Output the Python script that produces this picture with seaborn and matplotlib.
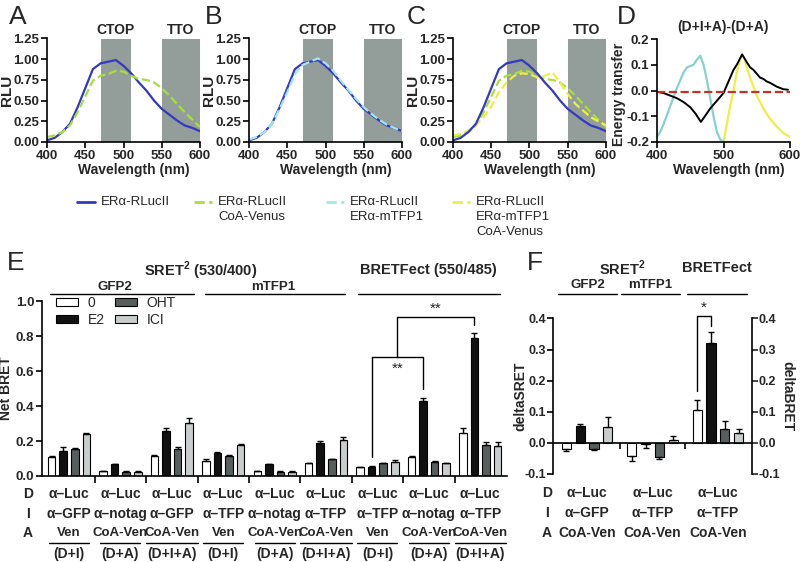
import numpy as np
import pandas as pd
import matplotlib
matplotlib.use('Agg')
import matplotlib.pyplot as plt
import matplotlib.transforms as mtransforms
from matplotlib.patches import Patch
from matplotlib.ticker import FormatStrFormatter
import seaborn as sns

wl = [400, 410, 420, 430, 440, 450, 460, 470, 480, 490, 500,
      510, 520, 530, 540, 550, 560, 570, 580, 590, 600]
rluc = [0.02, 0.05, 0.12, 0.22, 0.42, 0.65, 0.88, 0.95, 0.97, 0.99, 0.92,
        0.83, 0.72, 0.62, 0.50, 0.40, 0.33, 0.26, 0.20, 0.17, 0.13]
rluc_venus = [0.06, 0.08, 0.12, 0.20, 0.36, 0.55, 0.74, 0.80, 0.82, 0.86, 0.85,
              0.80, 0.76, 0.75, 0.72, 0.65, 0.56, 0.46, 0.36, 0.27, 0.18]
rluc_mtfp = [0.03, 0.06, 0.12, 0.22, 0.40, 0.60, 0.82, 0.93, 0.97, 1.01, 0.95,
             0.86, 0.74, 0.63, 0.52, 0.42, 0.34, 0.27, 0.21, 0.17, 0.13]
rluc_mtfp_venus = [0.08, 0.10, 0.14, 0.20, 0.30, 0.43, 0.60, 0.72, 0.80, 0.83, 0.82,
                   0.78, 0.80, 0.84, 0.72, 0.58, 0.46, 0.38, 0.30, 0.25, 0.20]

# ---- panel D: energy transfer difference
d_cyan_wl = [400, 405, 410, 420, 430, 440, 445, 450, 455, 460, 465, 470, 475,
             480, 485, 490, 495, 500, 510, 522]
d_cyan = [-0.18, -0.16, -0.13, -0.06, 0.01, 0.07, 0.09, 0.095, 0.10, 0.12, 0.135,
          0.10, 0.04, -0.03, -0.10, -0.16, -0.19, -0.20, -0.20, -0.20]
d_yellow_wl = [500, 505, 510, 515, 520, 525, 528, 532, 536, 540, 550, 560,
               570, 580, 590, 600]
d_yellow = [-0.20, -0.13, -0.06, 0.00, 0.07, 0.12, 0.14, 0.12, 0.08, 0.05, -0.02,
            -0.07, -0.11, -0.14, -0.165, -0.18]
d_black_wl = [400, 410, 420, 430, 440, 450, 458, 466, 472, 480, 490, 500, 505,
              510, 515, 520, 528, 535, 540, 545, 550, 555, 560, 565, 570, 580, 590, 597]
d_black = [-0.005, -0.01, -0.02, -0.03, -0.045, -0.065, -0.09, -0.122, -0.10, -0.07,
           -0.04, -0.01, 0.02, 0.05, 0.08, 0.10, 0.14, 0.11, 0.09, 0.08, 0.065, 0.05,
           0.045, 0.035, 0.03, 0.015, 0.005, 0.003]
d_baseline = -0.005

# ---- panel E: net BRET
treats = ['0', 'E2', 'OHT', 'ICI']
e_groups = ['g1', 'g2', 'g3', 'g4', 'g5', 'g6', 'g7', 'g8', 'g9']
e_zero = [0.110, 0.028, 0.116, 0.086, 0.028, 0.072, 0.050, 0.110, 0.246]
e_e2 = [0.143, 0.067, 0.257, 0.130, 0.067, 0.187, 0.053, 0.430, 0.787]
e_oht = [0.152, 0.025, 0.154, 0.116, 0.025, 0.095, 0.072, 0.082, 0.177]
e_ici = [0.238, 0.025, 0.305, 0.177, 0.025, 0.206, 0.082, 0.072, 0.173]
e_zero_err = [0.005, 0.003, 0.005, 0.010, 0.003, 0.005, 0.004, 0.005, 0.030]
e_e2_err = [0.020, 0.003, 0.015, 0.005, 0.003, 0.013, 0.003, 0.018, 0.032]
e_oht_err = [0.008, 0.003, 0.010, 0.004, 0.003, 0.004, 0.005, 0.005, 0.020]
e_ici_err = [0.005, 0.003, 0.025, 0.004, 0.003, 0.015, 0.010, 0.005, 0.020]
e_row_d = ['α–Luc'] * 9
e_row_i = ['α–GFP', 'α–notag', 'α–GFP', 'α–TFP', 'α–notag', 'α–TFP',
           'α–TFP', 'α–notag', 'α–TFP']
e_row_a = ['Ven', 'CoA-Ven', 'CoA-Ven'] * 3
e_row_combo = ['(D+I)', '(D+A)', '(D+I+A)'] * 3

# ---- panel F: delta SRET / delta BRET
f_groups = ['h1', 'h2', 'h3']
f_zero = [-0.020, -0.043, 0.105]
f_e2 = [0.055, -0.005, 0.322]
f_oht = [-0.020, -0.045, 0.045]
f_ici = [0.052, 0.008, 0.033]
f_zero_err = [0.005, 0.016, 0.032]
f_e2_err = [0.005, 0.013, 0.033]
f_oht_err = [0.004, 0.007, 0.024]
f_ici_err = [0.032, 0.015, 0.012]
f_row_d = ['α–Luc'] * 3
f_row_i = ['α–GFP', 'α–TFP', 'α–TFP']
f_row_a = ['CoA-Ven'] * 3

# colours
BLUE = '#3439c2'
GREEN = '#a6e03c'
CYAN = '#a2e6ee'
CYAN_D = '#86d2d2'
YELLOW = '#eeee44'
RED = '#c8302c'
BAND = '#939d9a'
BAR_COLORS = ['#ffffff', '#111111', '#565e5e', '#c9cdcd']

sns.set_style('ticks')
plt.rcParams['font.family'] = ['Liberation Sans', 'DejaVu Sans']
plt.rcParams['font.weight'] = 'bold'
plt.rcParams['axes.labelweight'] = 'bold'
plt.rcParams['mathtext.fontset'] = 'custom'
plt.rcParams['mathtext.bf'] = 'Liberation Sans:bold'
plt.rcParams['mathtext.rm'] = 'Liberation Sans:bold'

W, H = 802, 562
fig = plt.figure(figsize=(W / 100, H / 100), dpi=100)


def add_ax(x0, y0, x1, y1):
    return fig.add_axes([x0 / W, 1 - y1 / H, (x1 - x0) / W, (y1 - y0) / H])


def ftext(x, y, s, **kw):
    kw.setdefault('ha', 'center')
    kw.setdefault('va', 'center')
    return fig.text(x / W, 1 - y / H, s, **kw)


def style(ax, size=10):
    for s in ['top', 'right']:
        ax.spines[s].set_visible(False)
    for s in ['left', 'bottom']:
        ax.spines[s].set_linewidth(1.2)
        ax.spines[s].set_color('black')
    ax.tick_params(direction='out', length=4, width=1.2, labelsize=size, pad=1.5,
                   color='black')


# ---------------- A, B, C: emission spectra
spec_panels = [
    ('A', 47, 18, [(rluc, '-', BLUE), (rluc_venus, '--', GREEN)]),
    ('B', 249, 214, [(rluc, '-', BLUE), (rluc_mtfp, '--', CYAN)]),
    ('C', 453, 416, [(rluc_venus, '--', GREEN), (rluc_mtfp_venus, '--', YELLOW),
                     (rluc, '-', BLUE)]),
]
for letter, x0, lx, curves in spec_panels:
    ax = add_ax(x0, 38.5, x0 + 153, 142)
    ax.axvspan(470, 510, color=BAND, lw=0, zorder=0)
    ax.axvspan(550, 600, color=BAND, lw=0, zorder=0)
    for vals, ls, c in curves:
        sns.lineplot(x=wl, y=vals, ax=ax, color=c, lw=1.6, linestyle=ls)
    ax.set_xlim(400, 600)
    ax.set_ylim(0, 1.25)
    ax.set_xticks([400, 450, 500, 550, 600])
    ax.set_yticks([0, 0.25, 0.5, 0.75, 1.0, 1.25])
    ax.yaxis.set_major_formatter(FormatStrFormatter('%.2f'))
    style(ax, 9.5)
    ax.set_xlabel('Wavelength (nm)', fontsize=10)
    ax.xaxis.set_label_coords(0.57, -0.2)
    ax.set_ylabel('RLU', fontsize=11)
    ax.yaxis.set_label_coords(-0.215, 0.5)
    ax.text(490, 1.01, 'CTOP', transform=ax.get_xaxis_transform(),
            ha='center', va='bottom', fontsize=10)
    ax.text(575, 1.01, 'TTO', transform=ax.get_xaxis_transform(),
            ha='center', va='bottom', fontsize=10)
    ftext(lx, 17, letter, fontsize=19, fontweight='normal')

# ---------------- D: difference spectrum
axD = add_ax(657, 39, 790, 142)
sns.lineplot(x=d_cyan_wl, y=d_cyan, ax=axD, color=CYAN_D, lw=1.6)
sns.lineplot(x=d_yellow_wl, y=d_yellow, ax=axD, color=YELLOW, lw=1.6)
sns.lineplot(x=d_black_wl, y=d_black, ax=axD, color='black', lw=1.4)
axD.axhline(d_baseline, color=RED, ls='--', lw=1.6)
axD.set_xlim(400, 600)
axD.set_ylim(-0.2, 0.2)
axD.set_xticks([400, 500, 600])
axD.set_yticks([-0.2, -0.1, 0.0, 0.1, 0.2])
axD.yaxis.set_major_formatter(FormatStrFormatter('%.1f'))
style(axD, 9.5)
axD.set_xlabel('Wavelength (nm)', fontsize=10)
axD.xaxis.set_label_coords(0.54, -0.2)
axD.set_ylabel('Energy transfer', fontsize=10)
axD.yaxis.set_label_coords(-0.23, 0.46)
ftext(723, 27, '(D+I+A)-(D+A)', fontsize=10)
ftext(626, 17, 'D', fontsize=19, fontweight='normal')

# ---------------- top legend
ov = fig.add_axes([0, 0, 1, 1])
ov.set_xlim(0, W)
ov.set_ylim(H, 0)
ov.axis('off')
leg_items = [
    (77, BLUE, '-', ['ERα-RLucII']),
    (194, GREEN, '--', ['ERα-RLucII', 'CoA-Venus']),
    (326, CYAN, '--', ['ERα-RLucII', 'ERα-mTFP1']),
    (452, YELLOW, '--', ['ERα-RLucII', 'ERα-mTFP1', 'CoA-Venus']),
]
for lx0, c, ls, lines in leg_items:
    ov.plot([lx0, lx0 + 18], [202, 202], color=c, ls=ls, lw=2)
    for k, s in enumerate(lines):
        ov.text(lx0 + 24, 202 + 15 * k, s, ha='left', va='center',
                fontsize=9.5, fontweight='normal')


def long_df(groups, series, errs):
    rows = []
    for i, g in enumerate(groups):
        for t, vals, err in zip(treats, series, errs):
            rows.append({'group': g, 'treat': t, 'val': vals[i], 'err': err[i]})
    return pd.DataFrame(rows)


def bars(ax, df, groups, width, gap):
    sns.barplot(data=df, x='group', y='val', hue='treat', order=groups,
                hue_order=treats, palette=dict(zip(treats, BAR_COLORS)),
                width=width, gap=gap, saturation=1, edgecolor='black',
                linewidth=0.8, errorbar=None, legend=False, ax=ax)
    for j, t in enumerate(treats):
        sub = df[df['treat'] == t]
        xs = np.arange(len(groups)) + (j - 1.5) * width / 4
        v = sub['val'].to_numpy()
        e = sub['err'].to_numpy()
        lower = np.where(v < 0, e, 0)
        upper = np.where(v >= 0, e, 0)
        ax.errorbar(xs, v, yerr=[lower, upper], fmt='none', ecolor='black',
                    elinewidth=1, capsize=2.2, capthick=1, zorder=5)


# ---------------- E: net BRET
E_W = 0.9
axE = add_ax(42, 301, 507, 476)
df_e = long_df(e_groups, [e_zero, e_e2, e_oht, e_ici],
               [e_zero_err, e_e2_err, e_oht_err, e_ici_err])
bars(axE, df_e, e_groups, E_W, 0.35)
axE.set_xlim(-0.525, 8.52)
axE.set_ylim(0, 1.0)
axE.set_yticks([0, 0.2, 0.4, 0.6, 0.8, 1.0])
axE.yaxis.set_major_formatter(FormatStrFormatter('%.1f'))
axE.set_xticks(np.arange(len(e_groups) - 1) + 0.5)
axE.set_xticklabels([])
style(axE, 9.5)
axE.tick_params(axis='x', length=5)
axE.set_xlabel('')
axE.set_ylabel('Net BRET', fontsize=10)
axE.yaxis.set_label_coords(-0.062, 0.5)

handles = [Patch(facecolor=c, edgecolor='black', lw=0.8, label=t)
           for t, c in zip(treats, BAR_COLORS)]
axE.legend(handles=handles, ncol=2, loc='upper left', bbox_to_anchor=(0.03, 1.03),
           frameon=False, handlelength=1.6, handleheight=0.55, handletextpad=0.7,
           columnspacing=0.7, labelspacing=0.25, borderpad=0, borderaxespad=0,
           prop={'size': 10, 'weight': 'normal'})


def gx(k, j, width):
    return k + (j - 1.5) * width / 4


# significance brackets (E2 comparisons, BRETFect)
b1l, b1r = gx(6, 1, E_W), gx(7, 1, E_W)
b2l, b2r = (b1l + b1r) / 2, gx(8, 1, E_W)
axE.plot([b1l, b1l, b1r, b1r], [0.11, 0.68, 0.68, 0.497], color='black', lw=1)
axE.plot([b2l, b2l, b2r, b2r], [0.68, 0.908, 0.908, 0.863], color='black', lw=1)
axE.text(b2l, 0.615, '**', ha='center', va='center', fontsize=11, fontweight='normal')
axE.text((b2l + b2r) / 2, 0.955, '**', ha='center', va='center', fontsize=11,
         fontweight='normal')

# headers
ftext(201, 271, r'SRET$^{\mathbf{2}}$ (530/400)', fontsize=10.5)
ftext(428, 270, 'BRETFect (550/485)', fontsize=10.5)
ftext(115, 287, 'GFP2', fontsize=9.5)
ftext(273, 287, 'mTFP1', fontsize=9.5)
for x0, x1 in [(50, 194), (205, 345), (358, 500)]:
    ov.plot([x0, x1], [294, 294], color='black', lw=1)
ftext(16, 263, 'E', fontsize=19, fontweight='normal')

# rows under E
tE = mtransforms.blended_transform_factory(axE.transData, fig.transFigure)
for lab, ypx in [('D', 494), ('I', 514), ('A', 533)]:
    ftext(28, ypx, lab, fontsize=10)
for k in range(len(e_groups)):
    for rows, ypx, fs in [(e_row_d, 494, 10), (e_row_i, 514, 10),
                          (e_row_a, 533, 9.5), (e_row_combo, 554, 10)]:
        axE.text(k, 1 - ypx / H, rows[k], transform=tE, ha='center', va='center',
                 fontsize=fs)
    half = 0.5 if e_row_combo[k] == '(D+I+A)' else 0.39
    axE.plot([k - half, k + half], [1 - 543 / H] * 2, transform=tE, color='black',
             lw=1, clip_on=False)

# ---------------- F: delta SRET / delta BRET
F_W = 0.84
axF = add_ax(553, 318.5, 752, 474)
df_f = long_df(f_groups, [f_zero, f_e2, f_oht, f_ici],
               [f_zero_err, f_e2_err, f_oht_err, f_ici_err])
bars(axF, df_f, f_groups, F_W, 0.33)
axF.set_xlim(-0.52, 2.52)
axF.set_ylim(-0.1, 0.4)
axF.set_yticks([-0.1, 0, 0.1, 0.2, 0.3, 0.4])
axF.yaxis.set_major_formatter(FormatStrFormatter('%.1f'))
axF.set_xticks([0.5, 1.5])
axF.set_xticklabels([])
style(axF, 9)
axF.tick_params(axis='y', pad=1)
axF.spines['bottom'].set_position(('data', 0))
axF.set_xlabel('')
axF.set_ylabel('')
axF.text(-0.165, 0.5, 'deltaSRET', rotation=90, transform=axF.transAxes,
         ha='center', va='center', fontsize=10)

axF2 = axF.twinx()
axF2.set_ylim(-0.1, 0.4)
axF2.set_yticks([-0.1, 0, 0.1, 0.2, 0.3, 0.4])
axF2.yaxis.set_major_formatter(FormatStrFormatter('%.1f'))
for s in ['left', 'top', 'bottom']:
    axF2.spines[s].set_visible(False)
axF2.spines['right'].set_linewidth(1.2)
axF2.spines['right'].set_color('black')
axF2.tick_params(direction='out', length=4, width=1.2, labelsize=9, pad=1)
axF.text(1.18, 0.5, 'deltaBRET', rotation=270, transform=axF.transAxes,
         ha='center', va='center', fontsize=10)

fl, fr = gx(2, 0, F_W), gx(2, 1, F_W)
axF.plot([fl, fl, fr, fr], [0.166, 0.409, 0.409, 0.377], color='black', lw=1,
         clip_on=False)
axF.text((fl + fr) / 2, 0.435, '*', ha='center', va='center', fontsize=11,
         fontweight='normal')

ftext(535, 263, 'F', fontsize=19, fontweight='normal')
ftext(622, 268, r'SRET$^{\mathbf{2}}$', fontsize=10.5)
ftext(717, 268, 'BRETFect', fontsize=10.5)
ftext(588, 285, 'GFP2', fontsize=9.5)
ftext(650, 285, 'mTFP1', fontsize=9.5)
for x0, x1 in [(558, 617), (621, 680), (687, 747)]:
    ov.plot([x0, x1], [294, 294], color='black', lw=1)

tF = mtransforms.blended_transform_factory(axF.transData, fig.transFigure)
for lab, ypx in [('D', 493), ('I', 513), ('A', 533)]:
    ftext(547, ypx, lab, fontsize=10)
for k in range(len(f_groups)):
    for rows, ypx in [(f_row_d, 493), (f_row_i, 513), (f_row_a, 533)]:
        axF.text(k, 1 - ypx / H, rows[k], transform=tF, ha='center', va='center',
                 fontsize=10)

fig.savefig('out.png', dpi=100)
